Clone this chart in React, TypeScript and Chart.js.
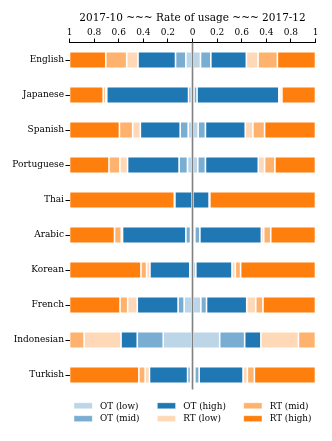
import React, { useEffect, useRef } from "react";
import { Chart, registerables } from "chart.js";

Chart.register(...registerables);

const categories = ["English", "Japanese", "Spanish", "Portuguese", "Thai", "Arabic", "Korean", "French", "Indonesian", "Turkish"];

// 2017-10 (left side)
const otLowOct = [0.054, 0.010, 0.035, 0.041, 0.000, 0.016, 0.008, 0.068, 0.238, 0.016];
const otMidOct = [0.084, 0.022, 0.065, 0.068, 0.000, 0.038, 0.014, 0.049, 0.211, 0.024];
const otHighOct = [0.305, 0.665, 0.324, 0.419, 0.143, 0.515, 0.324, 0.332, 0.132, 0.310];
const rtLowOct = [0.092, 0.010, 0.062, 0.062, 0.005, 0.010, 0.027, 0.078, 0.300, 0.035];
const rtMidOct = [0.170, 0.019, 0.108, 0.089, 0.000, 0.055, 0.046, 0.062, 0.119, 0.051];
const rtHighOct = [0.295, 0.274, 0.406, 0.321, 0.852, 0.366, 0.581, 0.411, 0.000, 0.564];

// 2017-12 (right side)
const otLowDec = [0.065, 0.012, 0.046, 0.043, 0.000, 0.019, 0.010, 0.068, 0.221, 0.019];
const otMidDec = [0.084, 0.025, 0.059, 0.062, 0.000, 0.041, 0.017, 0.046, 0.203, 0.035];
const otHighDec = [0.289, 0.665, 0.324, 0.430, 0.135, 0.500, 0.294, 0.327, 0.132, 0.357];
const rtLowDec = [0.095, 0.010, 0.062, 0.051, 0.006, 0.019, 0.027, 0.073, 0.305, 0.035];
const rtMidDec = [0.157, 0.015, 0.095, 0.084, 0.000, 0.057, 0.043, 0.059, 0.139, 0.057];
const rtHighDec = [0.310, 0.273, 0.414, 0.330, 0.859, 0.364, 0.609, 0.427, 0.000, 0.497];

const xTickValues = [-1, -0.8, -0.6, -0.4, -0.2, 0, 0.2, 0.4, 0.6, 0.8, 1];
const xTickLabels = ["1", "0.8", "0.6", "0.4", "0.2", "0", "0.2", "0.6", "0.4", "0.8", "1"];

const seriesNames = ["OT (low)", "OT (mid)", "OT (high)", "RT (low)", "RT (mid)", "RT (high)"];
const seriesColors = ["#bcd6e8", "#79add2", "#1f77b4", "#ffd9b7", "#ffb26e", "#ff7f0e"];

const titleText = "2017-10 ~~~ Rate of usage ~~~ 2017-12";
const FONT = "'DejaVu Serif', serif";

export default function App() {
  const ref = useRef<HTMLCanvasElement | null>(null);

  useEffect(() => {
    document.body.style.margin = "0";
    const canvas = ref.current;
    if (!canvas) return;

    const octSeries = [otLowOct, otMidOct, otHighOct, rtLowOct, rtMidOct, rtHighOct];
    const decSeries = [otLowDec, otMidDec, otHighDec, rtLowDec, rtMidDec, rtHighDec];

    const datasets: any[] = [];
    octSeries.forEach((arr, i) => {
      datasets.push({
        label: seriesNames[i] + " 2017-10",
        data: arr.map((v) => -v),
        backgroundColor: seriesColors[i],
        borderColor: "rgba(255,255,255,0.55)",
        borderWidth: 0.8,
        borderSkipped: false,
        stack: "s",
        barPercentage: 0.48,
        categoryPercentage: 1,
      });
    });
    decSeries.forEach((arr, i) => {
      datasets.push({
        label: seriesNames[i] + " 2017-12",
        data: arr.slice(),
        backgroundColor: seriesColors[i],
        borderColor: "rgba(255,255,255,0.55)",
        borderWidth: 0.8,
        borderSkipped: false,
        stack: "s",
        barPercentage: 0.48,
        categoryPercentage: 1,
      });
    });

    const centerLine = {
      id: "centerLine",
      afterDatasetsDraw(chart: any) {
        const { ctx, chartArea, scales } = chart;
        const x = scales.x.getPixelForValue(0);
        ctx.save();
        ctx.strokeStyle = "#808080";
        ctx.lineWidth = 1.6;
        ctx.beginPath();
        ctx.moveTo(x, chartArea.top);
        ctx.lineTo(x, chartArea.bottom - 3);
        ctx.stroke();
        ctx.restore();
      },
    };

    const customLegend = {
      id: "customLegend",
      afterDraw(chart: any) {
        const { ctx } = chart;
        const colX = [74, 157.3, 243.7];
        const rowY = [405.8, 418.7];
        const bw = 18.3;
        const bh = 6;
        ctx.save();
        ctx.font = "8.8px " + FONT;
        ctx.textBaseline = "middle";
        ctx.textAlign = "left";
        seriesNames.forEach((name, i) => {
          const col = Math.floor(i / 2);
          const row = i % 2;
          const x = colX[col];
          const y = rowY[row];
          ctx.fillStyle = seriesColors[i];
          ctx.fillRect(x, y - bh / 2, bw, bh);
          ctx.strokeStyle = "rgba(255,255,255,0.55)";
          ctx.lineWidth = 0.8;
          ctx.strokeRect(x, y - bh / 2, bw, bh);
          ctx.fillStyle = "#000";
          ctx.fillText(name, x + 26, y + 0.5);
        });
        ctx.restore();
      },
    };

    const chart = new Chart(canvas, {
      type: "bar",
      data: { labels: categories, datasets },
      options: {
        indexAxis: "y",
        animation: false,
        responsive: false,
        devicePixelRatio: 1,
        layout: { padding: { left: 0, right: 16.5, top: 0, bottom: 48.5 } },
        plugins: {
          legend: { display: false },
          tooltip: { enabled: false },
          title: { display: false },
        },
        scales: {
          x: {
            type: "linear",
            position: "top",
            min: -1,
            max: 1,
            stacked: true,
            afterFit(scale: any) {
              scale.height = 42.5;
            },
            afterBuildTicks(scale: any) {
              scale.ticks = xTickValues.map((v) => ({ value: v }));
            },
            ticks: {
              autoSkip: false,
              maxRotation: 0,
              padding: 0,
              color: "#000",
              font: { family: FONT, size: 9 },
              callback: (_v: any, i: number) => xTickLabels[i],
            },
            grid: {
              drawOnChartArea: false,
              drawTicks: true,
              tickLength: 4,
              tickColor: "#000",
            },
            border: { display: true, color: "#000", width: 1 },
            title: {
              display: true,
              text: titleText,
              color: "#000",
              font: { family: FONT, size: 10.5 },
              padding: { top: 12, bottom: 0 },
            },
          },
          y: {
            type: "category",
            stacked: true,
            offset: true,
            afterFit(scale: any) {
              scale.width = 69.5;
            },
            ticks: {
              autoSkip: false,
              padding: 1.5,
              color: "#000",
              font: { family: FONT, size: 9 },
            },
            grid: {
              offset: false,
              drawOnChartArea: false,
              drawTicks: true,
              tickLength: 4,
              tickColor: "#000",
            },
            border: { display: false },
          },
        },
      } as any,
      plugins: [centerLine, customLegend],
    });

    return () => chart.destroy();
  }, []);

  return (
    <div style={{ position: "absolute", left: 0, top: 0, width: 332, height: 441, background: "#fff" }}>
      <canvas ref={ref} width={332} height={441} style={{ display: "block", width: 332, height: 441 }} />
    </div>
  );
}
